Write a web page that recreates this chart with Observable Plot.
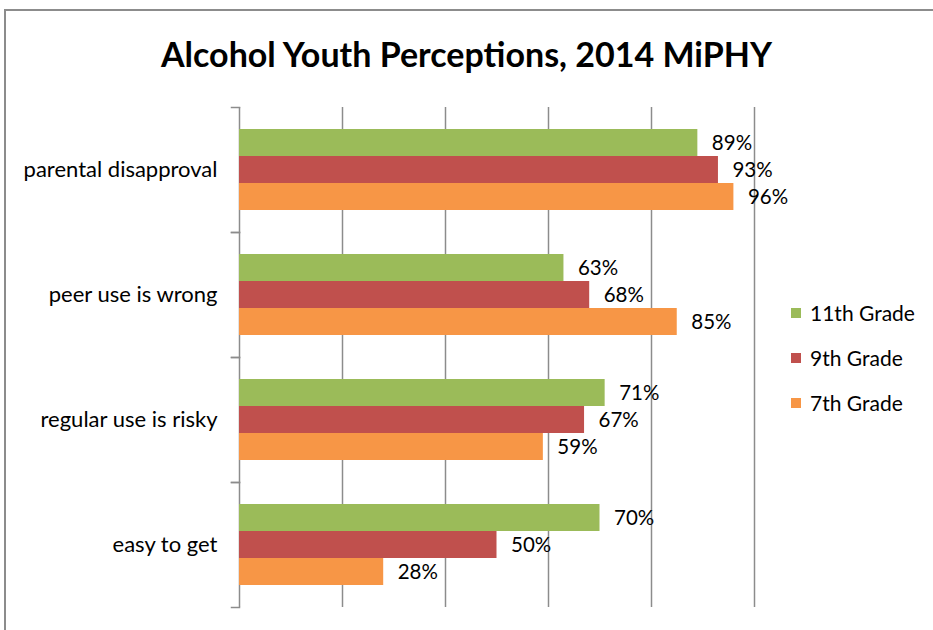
<!DOCTYPE html>
<html>
<head>
<meta charset="utf-8">
<script src="https://cdn.jsdelivr.net/npm/d3@7"></script>
<script src="https://cdn.jsdelivr.net/npm/@observablehq/plot@0.6"></script>
<style>
  html, body { margin: 0; padding: 0; background: #fff; overflow: hidden; }
  body { width: 933px; height: 630px; position: relative; font-family: Lato, "Noto Sans", sans-serif; }
  #frameTop { position: absolute; left: 4px; top: 9px; width: 929px; height: 0; border-top: 2px solid #8c8c8c; }
  #frameLeft { position: absolute; left: 4px; top: 9px; width: 0; height: 621px; border-left: 2px solid #8c8c8c; }
  #title { position: absolute; left: 0; top: 34px; width: 933px; text-align: center; font-weight: bold; font-size: 34px; line-height: 40px; color: #000; }
  #chart { position: absolute; left: 0; top: 0; }
  #legend { position: absolute; left: 791px; top: 290px; font-size: 21px; color: #000; }
  .item { display: flex; align-items: center; height: 45px; }
  .sw { width: 10px; height: 10px; margin-right: 9px; }
</style>
</head>
<body>
<div id="frameTop"></div>
<div id="frameLeft"></div>
<div id="chart"></div>
<div id="title"></div>
<div id="legend"></div>
<script>
const title = "Alcohol Youth Perceptions, 2014 MiPHY";
const categories = ["parental disapproval", "peer use is wrong", "regular use is risky", "easy to get"];
const grades = ["11th Grade", "9th Grade", "7th Grade"];
const colors = ["#9BBB59", "#C0504D", "#F79646"];
const grade11 = [89, 63, 71, 70];
const grade9 = [93, 68, 67, 50];
const grade7 = [96, 85, 59, 28];
const gridTicks = [0, 20, 40, 60, 80, 100];

const series = [grade11, grade9, grade7];
const data = [];
categories.forEach((c, i) => {
  grades.forEach((g, j) => data.push({category: c, grade: g, value: series[j][i]}));
});

document.getElementById("title").textContent = title;

const W = 933, H = 630;
const mLeft = 239, mRight = 179, mTop = 107, mBottom = 23;
const innerW = W - mLeft - mRight;

const chart = Plot.plot({
  width: W,
  height: H,
  marginLeft: mLeft,
  marginRight: mRight,
  marginTop: mTop,
  marginBottom: mBottom,
  style: {fontFamily: "Lato, 'Noto Sans', sans-serif", fontSize: "22px", color: "#000", background: "transparent", overflow: "hidden"},
  x: {domain: [0, 100], axis: null},
  y: {domain: grades, axis: null, paddingInner: 0, paddingOuter: 0.77},
  fy: {domain: categories, padding: 0, axis: "left", label: null, tickSize: 0, tickPadding: 22},
  color: {domain: grades, range: colors},
  marks: [
    Plot.ruleX(gridTicks, {x: d => d, stroke: "#8c8c8c", strokeWidth: 1.5}),
    Plot.frame({anchor: "top", stroke: "#8c8c8c", strokeWidth: 1.5, insetLeft: -8, insetRight: innerW}),
    Plot.frame({anchor: "bottom", stroke: "#8c8c8c", strokeWidth: 1.5, insetLeft: -8, insetRight: innerW}),
    Plot.barX(data, {fy: "category", y: "grade", x: "value", fill: "grade"}),
    Plot.text(data, {fy: "category", y: "grade", x: "value", text: d => d.value + "%", textAnchor: "start", dx: 14, fill: "#000", fontSize: 20.5})
  ]
});
document.getElementById("chart").appendChild(chart);

const legend = document.getElementById("legend");
grades.forEach((g, i) => {
  const item = document.createElement("div");
  item.className = "item";
  const sw = document.createElement("div");
  sw.className = "sw";
  sw.style.background = colors[i];
  const lab = document.createElement("span");
  lab.textContent = g;
  item.appendChild(sw);
  item.appendChild(lab);
  legend.appendChild(item);
});
</script>
</body>
</html>
